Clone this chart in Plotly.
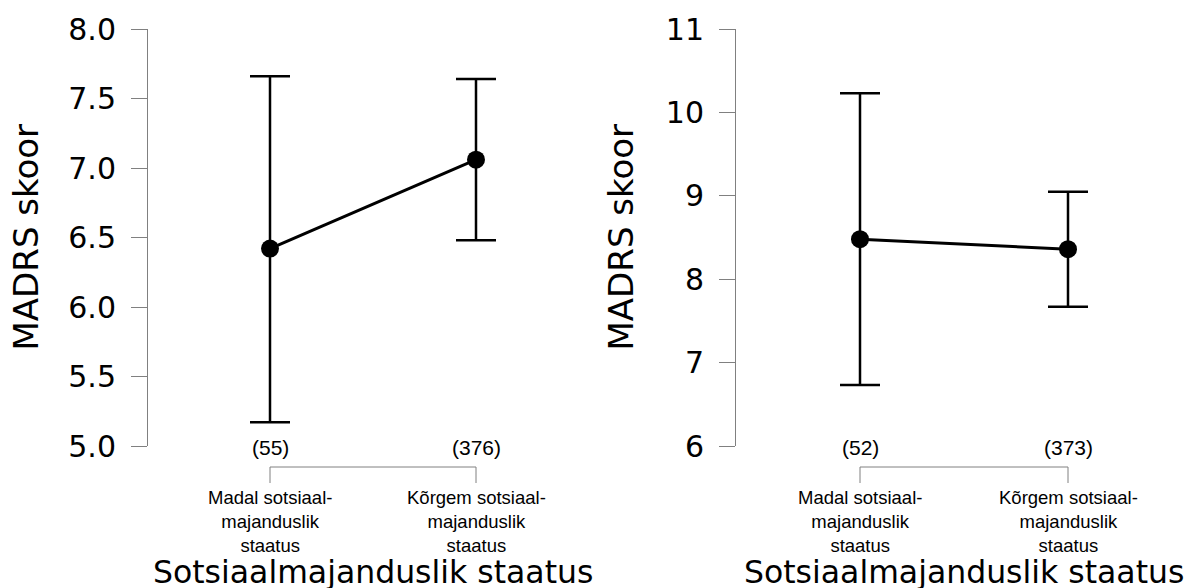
import plotly.graph_objects as go

W, H = 1191, 588

categories = ["Madal sotsiaal-<br>majanduslik<br>staatus", "Kõrgem sotsiaal-<br>majanduslik<br>staatus"]

# Left panel
left_mean = [6.42, 7.06]
left_upper = [7.66, 7.64]
left_lower = [5.17, 6.48]
left_n = ["(55)", "(376)"]
left_yticks = [5.0, 5.5, 6.0, 6.5, 7.0, 7.5, 8.0]

# Right panel
right_mean = [8.48, 8.36]
right_upper = [10.23, 9.05]
right_lower = [6.73, 7.67]
right_n = ["(52)", "(373)"]
right_yticks = [6, 7, 8, 9, 10, 11]

y_title = "MADRS skoor"
x_title = "Sotsiaalmajanduslik staatus"

BIG = "DejaVu Sans"
SMALL = "Liberation Sans"
GREY = "#808080"

xpos = [0, 1]

def px_x(p):
    return p / W

def px_y(p):
    return 1 - p / H

fig = go.Figure()

panels = [
    dict(mean=left_mean, up=left_upper, lo=left_lower, n=left_n, yt=left_yticks,
         xa="x", ya="y", axis_px=148, cat_px=(270, 476), end_px=598,
         fmt=".1f", ytshift=-123),
    dict(mean=right_mean, up=right_upper, lo=right_lower, n=right_n, yt=right_yticks,
         xa="x2", ya="y2", axis_px=736, cat_px=(860, 1068), end_px=1191,
         fmt="d", ytshift=-116),
]

ydom = [px_y(446), px_y(29)]

for i, p in enumerate(panels):
    fig.add_trace(go.Scatter(
        x=xpos, y=p["mean"], mode="lines+markers",
        line=dict(color="black", width=3),
        marker=dict(size=18, color="black"),
        error_y=dict(type="data", symmetric=False,
                     array=[u - m for u, m in zip(p["up"], p["mean"])],
                     arrayminus=[m - l for m, l in zip(p["mean"], p["lo"])],
                     color="black", thickness=2.5, width=20),
        cliponaxis=False,
        xaxis=p["xa"], yaxis=p["ya"], showlegend=False, hoverinfo="skip"))

    c0, c1 = p["cat_px"]
    step = c1 - c0
    a = (c0 - p["axis_px"]) / step
    b = (p["end_px"] - c1) / step
    sfx = "" if i == 0 else "2"
    fig.update_layout(**{
        "xaxis" + sfx: dict(domain=[px_x(p["axis_px"]), px_x(p["end_px"])],
                            range=[-a, 1 + b], showline=False, showgrid=False,
                            zeroline=False, showticklabels=False, ticks="",
                            anchor="y" + sfx, automargin=False, fixedrange=True),
        "yaxis" + sfx: dict(domain=ydom, range=[p["yt"][0], p["yt"][-1]],
                            tickvals=p["yt"], tickformat=p["fmt"],
                            showline=True, linecolor=GREY, linewidth=1,
                            ticks="outside", ticklen=16, tickcolor=GREY, tickwidth=1,
                            showgrid=False, zeroline=False,
                            tickfont=dict(family=BIG, size=30, color="black"),
                            ticklabelstandoff=9, anchor="x" + sfx,
                            automargin=False, fixedrange=True),
    })

    # bracket under the categories
    yb, yt_ = px_y(467), px_y(483)
    fig.add_shape(type="line", xref=p["xa"], yref="paper", x0=xpos[0], x1=xpos[-1],
                  y0=yb, y1=yb, line=dict(color=GREY, width=1))
    for xv, cat, t in zip(xpos, categories, p["n"]):
        fig.add_shape(type="line", xref=p["xa"], yref="paper", x0=xv, x1=xv,
                      y0=yb, y1=yt_, line=dict(color=GREY, width=1))
        fig.add_annotation(x=xv, xref=p["xa"], y=px_y(485), yref="paper",
                           text=cat, showarrow=False, xanchor="center", yanchor="top",
                           align="center",
                           font=dict(family=SMALL, size=18.5, color="black"))
        fig.add_annotation(x=xv, xref=p["xa"], y=px_y(447), yref="paper",
                           text=t, showarrow=False, xanchor="center", yanchor="middle",
                           font=dict(family=SMALL, size=21, color="black"))
    fig.add_annotation(x=0.5, xref=p["xa"] + " domain", y=px_y(572), yref="paper",
                       text=x_title, showarrow=False, xanchor="center", yanchor="middle",
                       font=dict(family=BIG, size=31.5, color="black"))
    fig.add_annotation(x=0, xref=p["xa"] + " domain", y=0.5, yref=p["ya"] + " domain",
                       xshift=p["ytshift"], text=y_title, textangle=-90,
                       showarrow=False, xanchor="center", yanchor="middle",
                       font=dict(family=BIG, size=34, color="black"))

fig.update_layout(width=W, height=H, autosize=False,
                  margin=dict(l=0, r=0, t=0, b=0, pad=0),
                  paper_bgcolor="white", plot_bgcolor="white")

fig.write_html("out.html", config={"displayModeBar": False},
               post_script="document.body.style.margin='0px';document.body.style.overflow='hidden';")
